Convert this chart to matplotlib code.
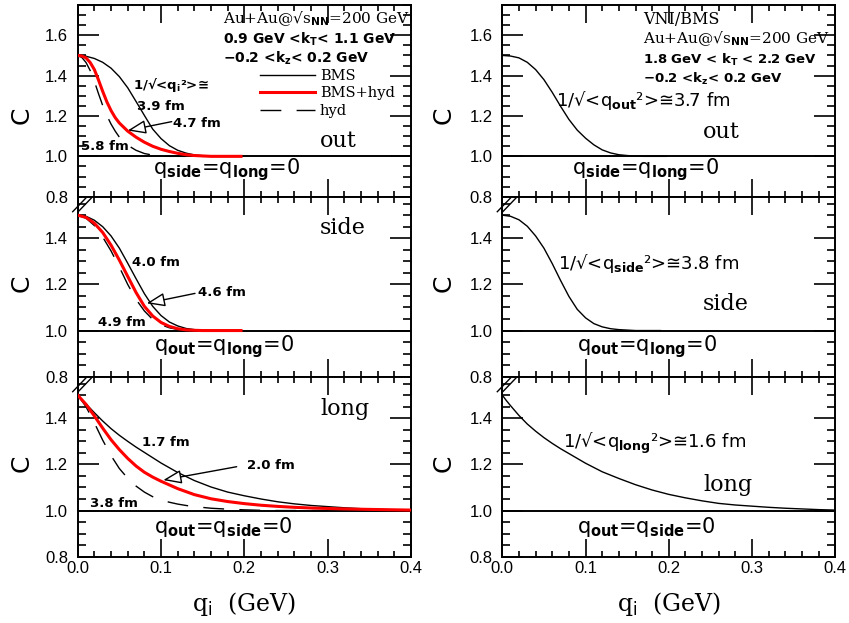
import matplotlib
matplotlib.use("Agg")
import matplotlib.pyplot as plt
from matplotlib.ticker import MultipleLocator, FormatStrFormatter
from matplotlib.lines import Line2D

# ---------------- data ----------------
# top-left: out
q_out_bms = [0, 0.01, 0.02, 0.03, 0.04, 0.05, 0.06, 0.07, 0.08, 0.09, 0.10, 0.11, 0.12, 0.13, 0.14, 0.15, 0.16, 0.17, 0.196]
C_out_bms = [1.5, 1.496, 1.485, 1.466, 1.437, 1.395, 1.34, 1.272, 1.203, 1.135, 1.088, 1.053, 1.03, 1.016, 1.007, 1.003, 1.001, 1.0, 1.0]
q_out_bh = [0, 0.005, 0.01, 0.015, 0.02, 0.025, 0.03, 0.035, 0.04, 0.045, 0.05, 0.06, 0.07, 0.08, 0.09, 0.10, 0.11, 0.12, 0.13, 0.14, 0.15, 0.16, 0.196]
C_out_bh = [1.5, 1.497, 1.488, 1.465, 1.43, 1.378, 1.322, 1.27, 1.227, 1.192, 1.165, 1.125, 1.095, 1.07, 1.05, 1.035, 1.024, 1.015, 1.008, 1.004, 1.002, 1.0, 1.0]
q_out_hyd = [0, 0.005, 0.01, 0.015, 0.02, 0.025, 0.03, 0.035, 0.04, 0.045, 0.05, 0.06, 0.07, 0.08, 0.09, 0.10, 0.11, 0.196]
C_out_hyd = [1.5, 1.49, 1.465, 1.425, 1.372, 1.31, 1.252, 1.202, 1.16, 1.125, 1.095, 1.055, 1.03, 1.014, 1.006, 1.002, 1.0, 1.0]

# middle-left: side
q_side_bms = [0, 0.01, 0.02, 0.03, 0.04, 0.05, 0.06, 0.07, 0.08, 0.09, 0.10, 0.11, 0.12, 0.13, 0.14, 0.15, 0.16, 0.196]
C_side_bms = [1.5, 1.495, 1.478, 1.45, 1.41, 1.357, 1.292, 1.225, 1.16, 1.105, 1.065, 1.037, 1.02, 1.009, 1.004, 1.001, 1.0, 1.0]
q_side_bh = [0, 0.01, 0.02, 0.03, 0.04, 0.05, 0.06, 0.07, 0.08, 0.09, 0.10, 0.11, 0.12, 0.13, 0.14, 0.15, 0.196]
C_side_bh = [1.5, 1.49, 1.465, 1.425, 1.37, 1.305, 1.235, 1.165, 1.105, 1.063, 1.035, 1.018, 1.008, 1.003, 1.001, 1.0, 1.0]
q_side_hyd = [0, 0.01, 0.02, 0.03, 0.04, 0.05, 0.06, 0.07, 0.08, 0.09, 0.10, 0.11, 0.12, 0.13, 0.14, 0.196]
C_side_hyd = [1.5, 1.487, 1.455, 1.405, 1.345, 1.275, 1.2, 1.135, 1.085, 1.048, 1.025, 1.012, 1.005, 1.002, 1.0, 1.0]

# bottom-left: long
q_long_bms = [0, 0.01, 0.02, 0.03, 0.04, 0.05, 0.06, 0.07, 0.08, 0.09, 0.10, 0.12, 0.14, 0.16, 0.18, 0.20, 0.22, 0.24, 0.26, 0.28, 0.30, 0.32, 0.34, 0.36, 0.38, 0.40]
C_long_bms = [1.5, 1.462, 1.424, 1.388, 1.355, 1.326, 1.30, 1.275, 1.252, 1.229, 1.206, 1.165, 1.13, 1.102, 1.08, 1.064, 1.05, 1.038, 1.029, 1.022, 1.017, 1.012, 1.008, 1.005, 1.003, 1.001]
q_long_bh = [0, 0.01, 0.02, 0.03, 0.04, 0.05, 0.06, 0.07, 0.08, 0.09, 0.10, 0.12, 0.14, 0.16, 0.18, 0.20, 0.22, 0.24, 0.26, 0.28, 0.30, 0.32, 0.35, 0.40]
C_long_bh = [1.5, 1.46, 1.41, 1.357, 1.307, 1.264, 1.226, 1.193, 1.166, 1.145, 1.127, 1.095, 1.069, 1.051, 1.039, 1.03, 1.023, 1.018, 1.014, 1.011, 1.009, 1.007, 1.005, 1.002]
q_long_hyd = [0, 0.01, 0.02, 0.03, 0.04, 0.05, 0.06, 0.07, 0.08, 0.09, 0.10, 0.11, 0.12, 0.13, 0.14, 0.16, 0.18, 0.20, 0.22, 0.24, 0.30]
C_long_hyd = [1.5, 1.45, 1.38, 1.305, 1.238, 1.182, 1.14, 1.106, 1.08, 1.06, 1.046, 1.036, 1.028, 1.022, 1.017, 1.01, 1.006, 1.003, 1.001, 1.0, 1.0]

# right column: VNI/BMS
q_vout = [0, 0.01, 0.02, 0.03, 0.04, 0.05, 0.06, 0.07, 0.08, 0.09, 0.10, 0.11, 0.12, 0.13, 0.14, 0.15, 0.16, 0.17, 0.197]
C_vout = [1.5, 1.497, 1.488, 1.466, 1.43, 1.38, 1.317, 1.248, 1.183, 1.13, 1.09, 1.057, 1.032, 1.017, 1.008, 1.004, 1.001, 1.0, 1.0]
q_vside = [0, 0.01, 0.02, 0.03, 0.04, 0.05, 0.06, 0.07, 0.08, 0.09, 0.10, 0.11, 0.12, 0.13, 0.14, 0.15, 0.16, 0.19]
C_vside = [1.5, 1.495, 1.48, 1.452, 1.41, 1.357, 1.29, 1.217, 1.148, 1.092, 1.055, 1.03, 1.016, 1.008, 1.004, 1.002, 1.0, 1.0]
q_vlong = [0, 0.005, 0.01, 0.02, 0.03, 0.04, 0.05, 0.06, 0.07, 0.08, 0.09, 0.10, 0.12, 0.14, 0.16, 0.18, 0.20, 0.22, 0.24, 0.26, 0.28, 0.30, 0.32, 0.34, 0.36, 0.38, 0.40]
C_vlong = [1.5, 1.476, 1.454, 1.412, 1.375, 1.344, 1.316, 1.291, 1.268, 1.247, 1.226, 1.205, 1.168, 1.139, 1.112, 1.089, 1.07, 1.055, 1.042, 1.031, 1.024, 1.019, 1.014, 1.01, 1.007, 1.004, 1.002]

xticks = [0.0, 0.1, 0.2, 0.3, 0.4]
yticks = [0.8, 1.0, 1.2, 1.4, 1.6]

# ---------------- layout ----------------
W, H = 849, 623
fig = plt.figure(figsize=(W / 100, H / 100), dpi=100)

def rect(x0, y0, x1, y1):
    return [x0 / W, 1 - y1 / H, (x1 - x0) / W, (y1 - y0) / H]

cols = [(77.7, 411.0), (502.3, 835.3)]
rows = [(5.0, 196.7), (196.7, 376.7), (376.7, 556.7)]
ylims = [(0.8, 1.75), (0.8, 1.58), (0.8, 1.58)]

axes = {}
for ci, (x0, x1) in enumerate(cols):
    for ri, (y0, y1) in enumerate(rows):
        ax = fig.add_axes(rect(x0, y0, x1, y1))
        ax.set_xlim(0, 0.4)
        ax.set_ylim(*ylims[ri])
        ax.set_xticks(xticks)
        ax.set_yticks([t for t in yticks if t <= ylims[ri][1]])
        ax.xaxis.set_minor_locator(MultipleLocator(0.02))
        ax.yaxis.set_minor_locator(MultipleLocator(0.05))
        ax.xaxis.set_major_formatter(FormatStrFormatter('%.1f'))
        ax.yaxis.set_major_formatter(FormatStrFormatter('%.1f'))
        ax.tick_params(which='both', direction='in', top=True, right=True, width=1.2)
        ax.tick_params(axis='x', which='major', length=13, pad=3)
        ax.tick_params(axis='y', which='major', length=15, pad=7)
        ax.tick_params(axis='x', which='minor', length=4.5)
        ax.tick_params(axis='y', which='minor', length=6)
        ax.tick_params(labelsize=12)
        if ri < 2:
            ax.tick_params(axis='x', labelbottom=False)
        for lab in ax.get_xticklabels() + ax.get_yticklabels():
            lab.set_family('Liberation Sans')
        for s in ax.spines.values():
            s.set_linewidth(1.4)
        ax.axhline(1.0, color='k', lw=1.4, zorder=2)
        axes[(ci, ri)] = ax

dash = (15, 11)
# left column curves
ax = axes[(0, 0)]
l1, = ax.plot(q_out_bms, C_out_bms, color='k', lw=1.0, label='BMS', zorder=3)
l2, = ax.plot(q_out_bh, C_out_bh, color='#ff0000', lw=2.2, label='BMS+hyd', zorder=4)
l3, = ax.plot(q_out_hyd, C_out_hyd, color='k', lw=1.0, dashes=dash, label='hyd', zorder=3)
ax.legend(handles=[l1, l2, l3], loc='upper left', bbox_to_anchor=(0.547, 0.665),
          frameon=False, borderpad=0, borderaxespad=0, handlelength=3.8,
          handletextpad=0.3, labelspacing=0.22,
          prop={'family': 'DejaVu Serif', 'size': 10.5})

ax = axes[(0, 1)]
ax.plot(q_side_bms, C_side_bms, color='k', lw=1.0, zorder=3)
ax.plot(q_side_bh, C_side_bh, color='#ff0000', lw=2.2, zorder=4)
ax.plot(q_side_hyd, C_side_hyd, color='k', lw=1.0, dashes=dash, zorder=3)

ax = axes[(0, 2)]
ax.plot(q_long_bms, C_long_bms, color='k', lw=1.0, zorder=3)
ax.plot(q_long_bh, C_long_bh, color='#ff0000', lw=2.2, zorder=4)
ax.plot(q_long_hyd, C_long_hyd, color='k', lw=1.0, dashes=dash, zorder=3)

# right column curves
axes[(1, 0)].plot(q_vout, C_vout, color='k', lw=1.0, zorder=3)
axes[(1, 1)].plot(q_vside, C_vside, color='k', lw=1.0, zorder=3)
axes[(1, 2)].plot(q_vlong, C_vlong, color='k', lw=1.0, zorder=3)

# arrows
arrow_kw = dict(arrowstyle='-|>,head_length=0.8,head_width=0.3', color='k', lw=1.0,
                fc='white', shrinkA=0, shrinkB=0, mutation_scale=14)
axes[(0, 0)].annotate('', xy=(0.060, 1.128), xytext=(0.1128, 1.172), arrowprops=arrow_kw)
axes[(0, 1)].annotate('', xy=(0.0828, 1.118), xytext=(0.1408, 1.161), arrowprops=arrow_kw)
axes[(0, 2)].annotate('', xy=(0.1027, 1.132), xytext=(0.1908, 1.19), arrowprops=arrow_kw)

# ---------------- texts ----------------
def T(px, py, s, ha='left', va='center', **kw):
    fig.text(px / W, 1 - py / H, s, ha=ha, va=va, **kw)

serif = dict(family='DejaVu Serif')
bsans = dict(family='DejaVu Sans', fontweight='bold')

# header top-left
T(223, 18.5, r'Au+Au@√s$_{\mathbf{NN}}$=200 GeV', fontsize=11, **serif)
T(223, 39, r'0.9 GeV <k$_{\mathbf{T}}$< 1.1 GeV', fontsize=10, **bsans)
T(223, 58.5, r'−0.2 <k$_{\mathbf{z}}$< 0.2 GeV', fontsize=10, **bsans)
# header top-right
T(643, 19, 'VNI/BMS', fontsize=11.5, **serif)
T(643, 39, r'Au+Au@√s$_{\mathbf{NN}}$=200 GeV', fontsize=11, **serif)
T(643, 59.5, r'1.8 GeV < k$_{\mathbf{T}}$ < 2.2 GeV', fontsize=9.5, **bsans)
T(643, 78.5, r'−0.2 <k$_{\mathbf{z}}$< 0.2 GeV', fontsize=9.5, **bsans)

# annotations left column
T(133, 85, r'1/√<q$_{\mathbf{i}}$²>≅', fontsize=9.5, **bsans)
T(137, 106, '3.9 fm', fontsize=9.5, **bsans)
T(173, 123.5, '4.7 fm', fontsize=9.5, **bsans)
T(81, 147, '5.8 fm', fontsize=9.5, **bsans)
T(132, 262, '4.0 fm', fontsize=9.5, **bsans)
T(198.5, 293, '4.6 fm', fontsize=9.5, **bsans)
T(98, 322, '4.9 fm', fontsize=9.5, **bsans)
T(142, 443, '1.7 fm', fontsize=9.5, **bsans)
T(247, 465.5, '2.0 fm', fontsize=9.5, **bsans)
T(90, 503.5, '3.8 fm', fontsize=9.5, **bsans)

# annotations right column
T(556.5, 100, r'1/√<q$_{\mathbf{out}}$²>≅3.7 fm', fontsize=13)
T(558, 263, r'1/√<q$_{\mathbf{side}}$²>≅3.8 fm', fontsize=13)
T(563, 443.5, r'1/√<q$_{\mathbf{long}}$²>≅1.6 fm', fontsize=13)

# direction labels
T(320, 141, 'out', fontsize=16, **serif)
T(320, 228, 'side', fontsize=16, **serif)
T(320, 408.5, 'long', fontsize=16, **serif)
T(703, 132.5, 'out', fontsize=16, **serif)
T(703, 304, 'side', fontsize=16, **serif)
T(703, 485, 'long', fontsize=16, **serif)

# condition labels
T(226, 170, r'q$_{\mathbf{side}}$=q$_{\mathbf{long}}$=0', ha='center', fontsize=15)
T(645, 170, r'q$_{\mathbf{side}}$=q$_{\mathbf{long}}$=0', ha='center', fontsize=15)
T(224, 347, r'q$_{\mathbf{out}}$=q$_{\mathbf{long}}$=0', ha='center', fontsize=15)
T(647, 347, r'q$_{\mathbf{out}}$=q$_{\mathbf{long}}$=0', ha='center', fontsize=15)
T(223, 527, r'q$_{\mathbf{out}}$=q$_{\mathbf{side}}$=0', ha='center', fontsize=15)
T(646, 527, r'q$_{\mathbf{out}}$=q$_{\mathbf{side}}$=0', ha='center', fontsize=15)

# y labels
for px in (22, 444):
    for py in (115, 283, 463):
        T(px, py, 'C', ha='center', fontsize=18, rotation=90)

# x labels
T(244.5, 604, r'q$_{\mathrm{i}}$  (GeV)', ha='center', fontsize=17, **serif)
T(669, 604, r'q$_{\mathrm{i}}$  (GeV)', ha='center', fontsize=17, **serif)

# axis-break marks
for (x0, x1) in cols:
    for (y0, y1) in rows[1:]:
        for dx in (0, 5.5):
            xs = [(x0 - 5 + dx) / W, (x0 + 8 + dx) / W]
            ys = [1 - (y0 + 15) / H, 1 - (y0 + 1.5) / H]
            fig.add_artist(Line2D(xs, ys, color='k', lw=1.0, transform=fig.transFigure))

fig.savefig('out.png', dpi=100)
